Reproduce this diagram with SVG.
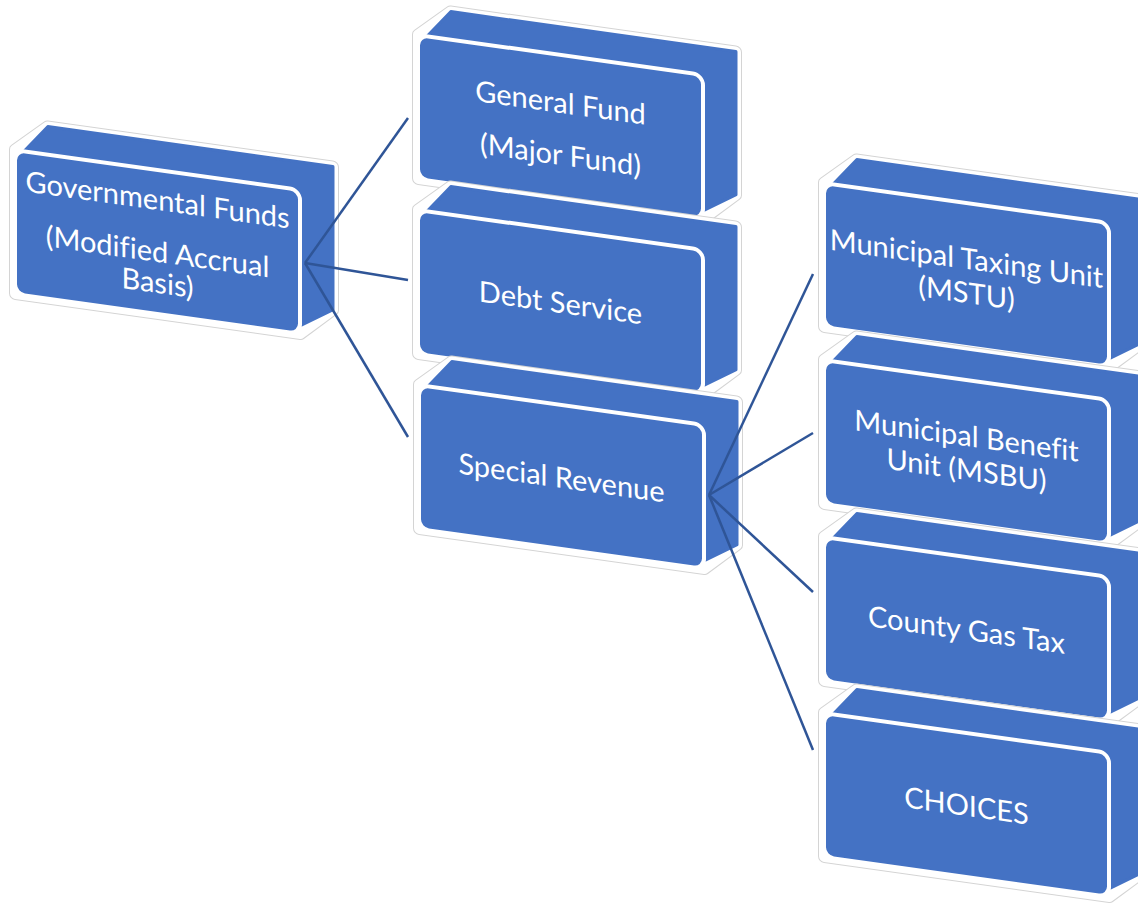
<svg xmlns="http://www.w3.org/2000/svg" width="1138" height="905" viewBox="0 0 1138 905">
<defs>
<style>
.halo1{fill:#fff;stroke:#d4d4d4;stroke-width:12;stroke-linejoin:round}
.halo2{fill:#fff;stroke:#fff;stroke-width:10;stroke-linejoin:round}
.side{fill:#4472C4;stroke:#4472C4;stroke-width:3;stroke-linejoin:round}
.front{fill:#4472C4;stroke:#fff;stroke-width:4}
.t{fill:#fff;font-family:Lato,"Open Sans",sans-serif;font-size:29px;text-anchor:middle;font-variant-ligatures:none}
.c{stroke:#2F5597;stroke-width:2.5;fill:none}
</style>
<g id="box">
<polygon class="halo1" points="0,0 33,-28 318,-28 318,115 285,144 0,144"/>
<polygon class="halo2" points="0,0 33,-28 318,-28 318,115 285,144 0,144"/>
<polygon class="side" points="5,5 33,-28 318,-28 318,115 280,139"/>
<rect class="front" x="0" y="0" width="285" height="144" rx="10" ry="10"/>
</g>
</defs>
<g id="node-governmental" transform="matrix(1 0.14 0 1 15 150)">
<use href="#box"/>
<text class="t" x="142.5" y="40">Governmental Funds</text>
<text class="t" x="142.5" y="92">(Modified Accrual</text>
<text class="t" x="142.5" y="123">Basis)</text>
</g>
<g id="node-general" transform="matrix(1 0.14 0 1 418 35)">
<use href="#box"/>
<text class="t" x="142.5" y="58">General Fund</text>
<text class="t" x="142.5" y="110">(Major Fund)</text>
</g>
<g id="node-debt" transform="matrix(1 0.14 0 1 418 210)">
<use href="#box"/>
<text class="t" x="142.5" y="83">Debt Service</text>
</g>
<g id="node-special" transform="matrix(1 0.14 0 1 419 385)">
<use href="#box"/>
<text class="t" x="142.5" y="83">Special Revenue</text>
</g>
<g id="node-mstu" transform="matrix(1 0.14 0 1 824 183)">
<use href="#box"/>
<text class="t" x="142.5" y="66">Municipal Taxing Unit</text>
<text class="t" x="142.5" y="100">(MSTU)</text>
</g>
<g id="node-msbu" transform="matrix(1 0.14 0 1 824 360)">
<use href="#box"/>
<text class="t" x="142.5" y="66">Municipal Benefit</text>
<text class="t" x="142.5" y="100">Unit (MSBU)</text>
</g>
<g id="node-gastax" transform="matrix(1 0.14 0 1 824 537)">
<use href="#box"/>
<text class="t" x="142.5" y="83">County Gas Tax</text>
</g>
<g id="node-choices" transform="matrix(1 0.14 0 1 824 713)">
<use href="#box"/>
<text class="t" x="142.5" y="83">CHOICES</text>
</g>
<g id="connectors">
<line class="c" x1="305" y1="263" x2="408" y2="118"/>
<line class="c" x1="305" y1="263" x2="408" y2="280"/>
<line class="c" x1="305" y1="263" x2="408" y2="437"/>
<line class="c" x1="709" y1="495" x2="813" y2="274"/>
<line class="c" x1="709" y1="495" x2="813" y2="433"/>
<line class="c" x1="709" y1="495" x2="813" y2="592"/>
<line class="c" x1="709" y1="495" x2="813" y2="750"/>
</g>
</svg>
